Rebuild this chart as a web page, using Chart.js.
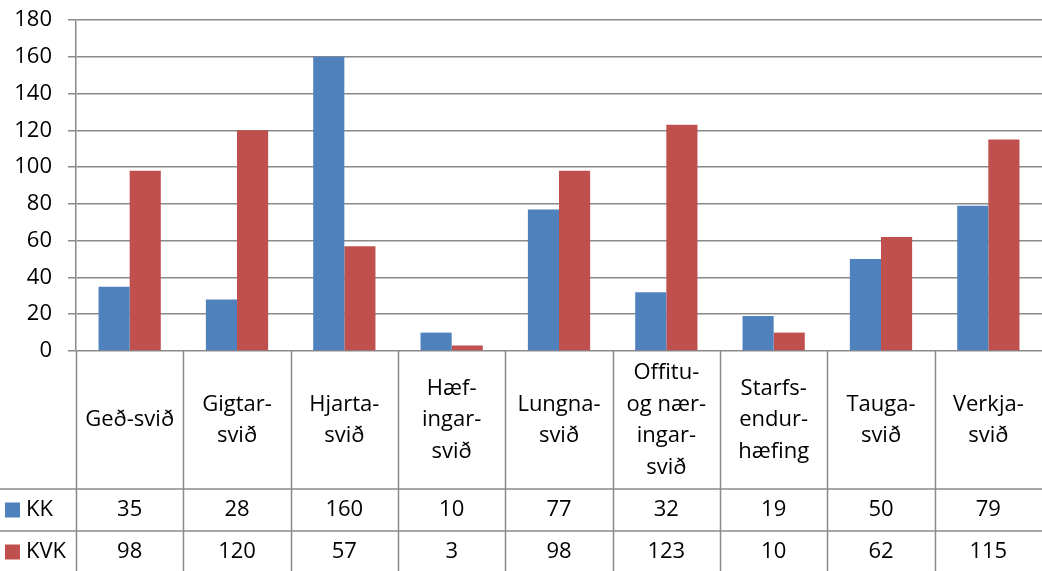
<!DOCTYPE html>
<html>
<head>
<meta charset="utf-8">
<script src="https://cdn.jsdelivr.net/npm/chart.js@4.4.1/dist/chart.umd.min.js"></script>
<style>
  html, body { margin: 0; padding: 0; background: #fff; }
  #wrap { width: 1042px; height: 571px; }
</style>
</head>
<body>
<div id="wrap"><canvas id="graf" width="1042" height="571"></canvas></div>
<script>
'use strict';

// Flokkar (línur í hverjum reit töflunnar)
const flokkar = [
  ['Geð-svið'],
  ['Gigtar-', 'svið'],
  ['Hjarta-', 'svið'],
  ['Hæf-', 'ingar-', 'svið'],
  ['Lungna-', 'svið'],
  ['Offitu-', 'og nær-', 'ingar-', 'svið'],
  ['Starfs-', 'endur-', 'hæfing'],
  ['Tauga-', 'svið'],
  ['Verkja-', 'svið'],
];
const kk  = [35, 28, 160, 10, 77, 32, 19, 50, 79];
const kvk = [98, 120, 57, 3, 98, 123, 10, 62, 115];
const raðir = ['KK', 'KVK'];
const litir = ['#4F81BD', '#C0504D'];
const yTicks = { min: 0, max: 180, step: 20 };

const LETUR = '"Open Sans", "Liberation Sans", sans-serif';
const GRAR = '#8a8a8a';

// Gagnatafla undir grafinu
const taflaPlugin = {
  id: 'gagnatafla',
  afterDraw(chart) {
    const { ctx, chartArea: a, width, height } = chart;
    const n = flokkar.length;
    const w = (a.right - a.left) / n;
    const yFlokkBotn = 489, yKKBotn = 531;

    ctx.save();
    ctx.strokeStyle = GRAR;
    ctx.lineWidth = 1.5;
    ctx.beginPath();
    [yFlokkBotn, yKKBotn].forEach(y => { ctx.moveTo(0, y); ctx.lineTo(width, y); });
    for (let i = 0; i < n; i++) {
      const x = Math.round(a.left + i * w) + 0.5;
      ctx.moveTo(x, a.bottom); ctx.lineTo(x, height);
    }
    ctx.stroke();

    ctx.fillStyle = '#000';
    ctx.font = '22px ' + LETUR;
    ctx.textAlign = 'center';
    ctx.textBaseline = 'middle';
    const lh = 31.5;
    const miðFlokk = (a.bottom + yFlokkBotn) / 2;
    flokkar.forEach((linur, i) => {
      const cx = chart.scales.x.getPixelForValue(i);
      const y0 = miðFlokk - (linur.length - 1) * lh / 2;
      linur.forEach((t, j) => ctx.fillText(t, cx, y0 + j * lh));
    });

    const raðMið = [(yFlokkBotn + yKKBotn) / 2, (yKKBotn + height) / 2 + 1];
    [kk, kvk].forEach((gildi, r) => {
      gildi.forEach((v, i) => {
        ctx.fillText(String(v), chart.scales.x.getPixelForValue(i), raðMið[r]);
      });
      ctx.fillStyle = litir[r];
      ctx.fillRect(5, raðMið[r] - 7.5, 15, 15);
      ctx.fillStyle = '#000';
      ctx.textAlign = 'left';
      ctx.fillText(raðir[r], 26, raðMið[r]);
      ctx.textAlign = 'center';
    });
    ctx.restore();
  },
};

new Chart(document.getElementById('graf'), {
  type: 'bar',
  data: {
    labels: flokkar.map(l => l.join(' ')),
    datasets: [
      { label: raðir[0], data: kk, backgroundColor: litir[0], categoryPercentage: 0.58, barPercentage: 1 },
      { label: raðir[1], data: kvk, backgroundColor: litir[1], categoryPercentage: 0.58, barPercentage: 1 },
    ],
  },
  options: {
    responsive: false, animation: false,
    layout: { padding: { top: 20, right: 0, bottom: 220, left: 0 } },
    plugins: { legend: { display: false }, tooltip: { enabled: false } },
    scales: {
      x: { display: false },
      y: {
        min: yTicks.min, max: yTicks.max,
        afterFit: s => { s.width = 76; s.paddingTop = 0; s.paddingBottom = 0; },
        ticks: { stepSize: yTicks.step, color: '#000', padding: 16, font: { family: LETUR, size: 22 } },
        grid: { color: GRAR, lineWidth: 1.5, tickLength: 8 },
        border: { color: GRAR, width: 1.5 },
      },
    },
  },
  plugins: [taflaPlugin],
});
</script>
</body>
</html>
